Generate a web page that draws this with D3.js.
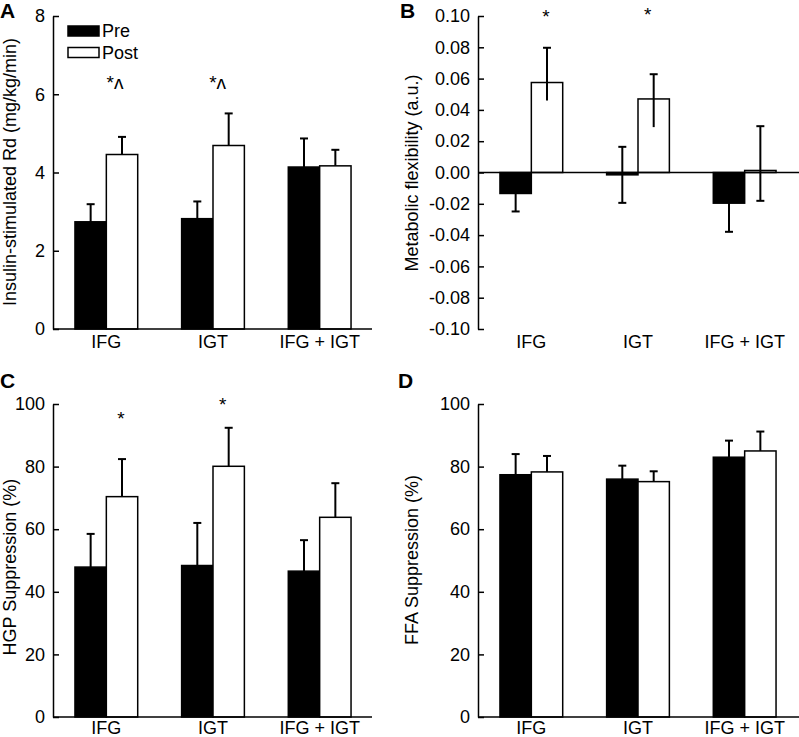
<!DOCTYPE html>
<html>
<head>
<meta charset="utf-8">
<script src="https://cdn.jsdelivr.net/npm/d3@7"></script>
<style>
  html, body { margin: 0; padding: 0; background: #fff; }
  svg { display: block; font-family: "Liberation Sans", Arial, sans-serif; }
</style>
</head>
<body>
<svg id="chart" width="799" height="737"></svg>
<script>
// ---------- data ----------
const categories = ["IFG", "IGT", "IFG + IGT"];
const seriesNames = ["Pre", "Post"];

// Panel A: Insulin-stimulated Rd
const preA = [2.74, 2.82, 4.14];
const preAErr = [0.45, 0.44, 0.73];
const postA = [4.46, 4.69, 4.17];
const postAErr = [0.45, 0.82, 0.41];
const ticksA = [0, 2, 4, 6, 8];

// Panel B: Metabolic flexibility
const preB = [-0.0134, -0.0015, -0.0196];
const preBErrUp = [0.0115, 0.0179, 0.0183];
const preBErrDown = [0.0115, 0.0179, 0.0183];
const postB = [0.0575, 0.047, 0.0013];
const postBErrUp = [0.0222, 0.0158, 0.0283];
const postBErrDown = [0.0115, 0.018, 0.0194];
const ticksB = [0.10, 0.08, 0.06, 0.04, 0.02, 0.00, -0.02, -0.04, -0.06, -0.08, -0.10];

// Panel C: HGP suppression
const preC = [47.9, 48.4, 46.6];
const preCErr = [10.6, 13.6, 9.9];
const postC = [70.4, 80.1, 63.8];
const postCErr = [12.0, 12.3, 10.9];
const ticksC = [0, 20, 40, 60, 80, 100];

// Panel D: FFA suppression
const preD = [77.4, 76.0, 83.0];
const preDErr = [6.6, 4.3, 5.3];
const postD = [78.3, 75.2, 85.0];
const postDErr = [5.1, 3.3, 6.2];
const ticksD = [0, 20, 40, 60, 80, 100];

// significance annotations: [category index, label, y value]
const annotA = [[0, "*\u028C", 6.14], [1, "*\u028C", 6.14]];
const annotB = [[0, "*", 0.0955], [1, "*", 0.0968]];
const annotC = [[0, "*", 93.3], [1, "*", 97.8]];
const annotD = [];

// ---------- drawing ----------
const svg = d3.select("#chart");
const FONT = 18;

function panel(cfg) {
  const g = svg.append("g");
  const y = d3.scaleLinear().domain(cfg.domain).range([cfg.bottom, cfg.top]);
  const x0 = d3.scaleBand().domain(categories).range([cfg.left, cfg.right]).padding(0);
  const x1 = d3.scaleBand().domain(seriesNames).range([0, x0.bandwidth()]).paddingInner(0).paddingOuter(0.7);

  const rows = categories.map((c, i) => [
    { cat: c, s: "Pre", v: cfg.pre[i], up: cfg.preUp[i], down: cfg.preDown ? cfg.preDown[i] : 0 },
    { cat: c, s: "Post", v: cfg.post[i], up: cfg.postUp[i], down: cfg.postDown ? cfg.postDown[i] : 0 }
  ]).flat();

  // error bars caps and stems
  const eb = g.append("g").attr("stroke", "#000").attr("stroke-width", 2).attr("fill", "none");
  const capW = 4;
  rows.forEach(d => {
    const cx = x0(d.cat) + x1(d.s) + x1.bandwidth() / 2;
    const top = d.v + d.up;
    const bot = d.v - d.down;
    eb.append("line").attr("x1", cx - capW).attr("x2", cx + capW).attr("y1", y(top)).attr("y2", y(top));
    if (cfg.preDown) {
      eb.append("line").attr("x1", cx - capW).attr("x2", cx + capW).attr("y1", y(bot)).attr("y2", y(bot));
    }
  });

  // bars
  g.append("g").selectAll("rect").data(rows).join("rect")
    .attr("x", d => x0(d.cat) + x1(d.s))
    .attr("width", x1.bandwidth())
    .attr("y", d => y(Math.max(0, d.v)))
    .attr("height", d => Math.abs(y(d.v) - y(0)))
    .attr("fill", d => d.s === "Pre" ? "#000" : "#fff")
    .attr("stroke", "#000")
    .attr("stroke-width", 1.5);

  // error bar stems over bars
  const eb2 = g.append("g").attr("stroke", "#000").attr("stroke-width", 2).attr("fill", "none");
  rows.forEach(d => {
    const cx = x0(d.cat) + x1(d.s) + x1.bandwidth() / 2;
    const top = d.v + d.up;
    const bot = d.v - d.down;
    eb2.append("line").attr("x1", cx).attr("x2", cx).attr("y1", y(bot)).attr("y2", y(top));
  });

  // y axis
  const ax = d3.axisLeft(y).tickValues(cfg.ticks).tickSizeInner(-6).tickSizeOuter(0).tickPadding(8)
    .tickFormat(cfg.fmt);
  const ag = g.append("g").attr("transform", `translate(${cfg.left},0)`).call(ax);
  ag.attr("font-family", "'Liberation Sans', Arial, sans-serif");
  ag.select(".domain").attr("stroke", "#000").attr("stroke-width", 1.5);
  ag.selectAll(".tick line").attr("stroke", "#000").attr("stroke-width", 1.5);
  ag.selectAll(".tick text").attr("font-size", FONT).attr("fill", "#000");

  // horizontal baseline / x-axis line
  g.append("line").attr("x1", cfg.left).attr("x2", cfg.lineEnd)
    .attr("y1", y(0)).attr("y2", y(0)).attr("stroke", "#000").attr("stroke-width", 1.5);

  // category labels
  g.append("g").selectAll("text").data(categories).join("text")
    .attr("x", d => x0(d) + x0.bandwidth() / 2)
    .attr("y", cfg.catY)
    .attr("text-anchor", "middle")
    .attr("font-size", FONT)
    .text(d => d);

  // y title
  g.append("text")
    .attr("transform", `translate(${cfg.titleX},${cfg.titleY}) rotate(-90)`)
    .attr("text-anchor", "middle")
    .attr("font-size", FONT)
    .text(cfg.title);

  // panel letter
  g.append("text").attr("x", cfg.letterX).attr("y", cfg.letterY)
    .attr("font-size", 21).attr("font-weight", "bold").text(cfg.letter);

  // annotations
  g.append("g").selectAll("text").data(cfg.annot).join("text")
    .attr("x", d => x0(categories[d[0]]) + x1("Post") + x1.bandwidth() / 2 + cfg.annotDx[d[0]])
    .attr("y", d => y(d[2]))
    .attr("text-anchor", "middle")
    .attr("font-size", 19)
    .text(d => d[1]);

  return { g, x0, x1, y };
}

const intFmt = d => String(d);
const decFmt = d => d.toFixed(2);

const A = panel({
  left: 53, right: 373, top: 16, bottom: 329, lineEnd: 372,
  domain: [0, 8], ticks: ticksA, fmt: intFmt,
  pre: preA, preUp: preAErr, post: postA, postUp: postAErr,
  catY: 348, title: "Insulin-stimulated Rd (mg/kg/min)", titleX: 16, titleY: 172,
  letter: "A", letterX: 0, letterY: 18, annot: annotA, annotDx: [-7, -11, 0]
});

// legend in panel A
const legend = A.g.append("g");
seriesNames.forEach((s, i) => {
  legend.append("rect").attr("x", 68).attr("y", 26 + i * 21.5).attr("width", 31).attr("height", 10)
    .attr("fill", s === "Pre" ? "#000" : "#fff").attr("stroke", "#000").attr("stroke-width", 1.5);
  legend.append("text").attr("x", 102).attr("y", 37 + i * 21.5).attr("font-size", FONT).text(s);
});

panel({
  left: 478, right: 798, top: 16, bottom: 329, lineEnd: 799,
  domain: [-0.10, 0.10], ticks: ticksB, fmt: decFmt,
  pre: preB, preUp: preBErrUp, preDown: preBErrDown,
  post: postB, postUp: postBErrUp, postDown: postBErrDown,
  catY: 348, title: "Metabolic flexibility (a.u.)", titleX: 418, titleY: 173,
  letter: "B", letterX: 400, letterY: 18, annot: annotB, annotDx: [-1, -6, 0]
});

panel({
  left: 53, right: 373, top: 404, bottom: 717, lineEnd: 372,
  domain: [0, 100], ticks: ticksC, fmt: intFmt,
  pre: preC, preUp: preCErr, post: postC, postUp: postCErr,
  catY: 734, title: "HGP Suppression (%)", titleX: 16, titleY: 567,
  letter: "C", letterX: 0, letterY: 388, annot: annotC, annotDx: [-1, -6, 0]
});

panel({
  left: 478, right: 798, top: 404, bottom: 717, lineEnd: 799,
  domain: [0, 100], ticks: ticksD, fmt: intFmt,
  pre: preD, preUp: preDErr, post: postD, postUp: postDErr,
  catY: 734, title: "FFA Suppression (%)", titleX: 418, titleY: 560,
  letter: "D", letterX: 398, letterY: 388, annot: annotD, annotDx: [0, 0, 0]
});
</script>
</body>
</html>
